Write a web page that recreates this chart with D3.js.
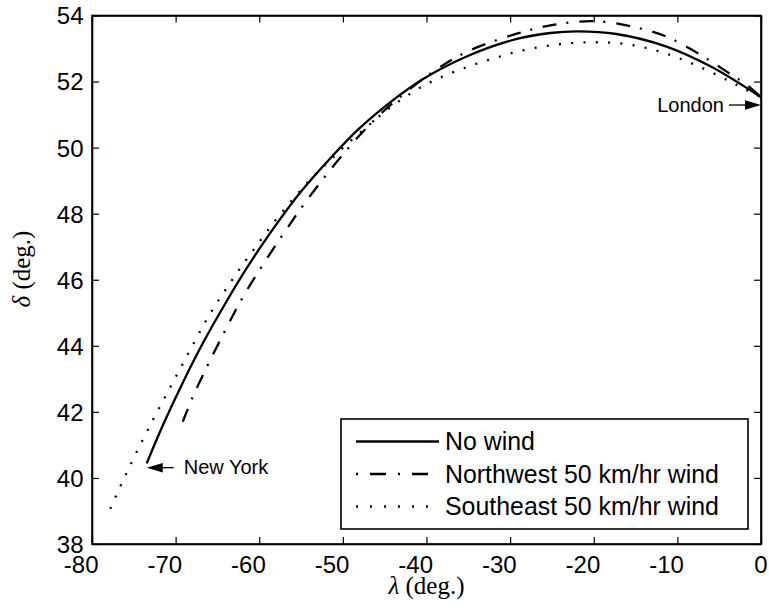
<!DOCTYPE html>
<html>
<head>
<meta charset="utf-8">
<script src="https://cdn.jsdelivr.net/npm/d3@7"></script>
<style>
  html, body { margin: 0; padding: 0; background: #fff; }
  svg { display: block; }
  text { font-family: "Liberation Sans", Arial, Helvetica, sans-serif; fill: #000; }
  .serif { font-family: "Liberation Serif", "Times New Roman", serif; }
</style>
</head>
<body>
<svg id="chart" width="769" height="612"></svg>
<script>
// ---------------- data ----------------
const xTicks = [-80, -70, -60, -50, -40, -30, -20, -10, 0];
const yTicks = [38, 40, 42, 44, 46, 48, 50, 52, 54];

const seriesNames = ["No wind", "Northwest 50 km/hr wind", "Southeast 50 km/hr wind"];

const lambdaNoWind = [-73.46, -71.5, -69, -66.7, -63.9, -61.5, -58.7, -55.1, -51.5, -48, -44, -40.4, -35.2, -29.2, -25.2, -22, -17.3, -11.3, -6.1, -2.1, 0];
const deltaNoWind  = [40.44, 41.61, 42.96, 44.10, 45.35, 46.35, 47.41, 48.64, 49.68, 50.59, 51.44, 52.08, 52.76, 53.29, 53.47, 53.52, 53.44, 53.06, 52.47, 51.87, 51.52];

const lambdaNorthwest = [-69.15, -67.9, -65.9, -63.9, -61.9, -59.5, -56.9, -54.7, -51.9, -49.4, -47.6, -44.4, -39.2, -35.2, -29.2, -25.2, -20.1, -15.3, -11.3, -7.3, -4.1, -1.7, 0];
const deltaNorthwest  = [41.70, 42.48, 43.55, 44.55, 45.50, 46.48, 47.47, 48.27, 49.20, 49.97, 50.48, 51.27, 52.30, 52.90, 53.45, 53.70, 53.83, 53.66, 53.36, 52.82, 52.30, 51.90, 51.53];

const lambdaSoutheast = [-77.81, -76, -74, -72, -70, -68, -66, -64, -62, -60, -58, -56, -54, -52, -50, -47, -44, -40, -36, -32, -28, -24, -20, -16, -12, -8, -4, -2, 0];
const deltaSoutheast  = [39.07, 40.08, 41.12, 42.10, 43.05, 44.00, 44.92, 45.71, 46.45, 47.14, 47.82, 48.43, 49.00, 49.50, 49.99, 50.66, 51.28, 51.92, 52.36, 52.70, 52.97, 53.13, 53.19, 53.13, 52.90, 52.52, 52.04, 51.78, 51.53];

// annotation arrow tips (lambda, delta)
const cityNames = ["New York", "London"];
const cityLambda = [-73.45, 0];
const cityDelta = [40.31, 51.29];

// ---------------- layout ----------------
const svg = d3.select("#chart");
const mLeft = 92, mRight = 761, mTop = 15.5, mBottom = 544;

const x = d3.scaleLinear().domain([-80, 0]).range([mLeft, mRight]);
const y = d3.scaleLinear().domain([38, 54]).range([mBottom, mTop]);

const styles = [
  { dash: null, legendDash: null, width: 2.3 },
  { dash: "14,10,2,11", legendDash: "2,12,16,12", width: 2.3 },
  { dash: "2,10.3", legendDash: "2,12", width: 2.3 }
];

const series = [
  lambdaNoWind.map((l, i) => [l, deltaNoWind[i]]),
  lambdaNorthwest.map((l, i) => [l, deltaNorthwest[i]]),
  lambdaSoutheast.map((l, i) => [l, deltaSoutheast[i]])
];

const line = d3.line().x(d => x(d[0])).y(d => y(d[1])).curve(d3.curveCatmullRom.alpha(0.5));

svg.append("defs").append("clipPath").attr("id", "plotclip")
  .append("rect").attr("x", mLeft).attr("y", mTop).attr("width", mRight - mLeft).attr("height", mBottom - mTop);

const plot = svg.append("g").attr("clip-path", "url(#plotclip)");
series.forEach((s, i) => {
  plot.append("path")
    .attr("d", line(s))
    .attr("fill", "none")
    .attr("stroke", "#000")
    .attr("stroke-width", styles[i].width)
    .attr("stroke-dasharray", styles[i].dash)
    .attr("stroke-linejoin", "round");
});

// axes (Matlab style: inward ticks, full box)
const tickLen = 7;
const fontSize = 24;
const fmt = d => String(d);
const xAxisB = svg.append("g").attr("transform", `translate(0,${mBottom})`)
  .call(d3.axisBottom(x).tickValues(xTicks).tickSizeInner(-tickLen).tickSizeOuter(0).tickFormat(fmt));
const xAxisT = svg.append("g").attr("transform", `translate(0,${mTop})`)
  .call(d3.axisTop(x).tickValues(xTicks).tickSizeInner(-tickLen).tickSizeOuter(0).tickFormat(""));
const yAxisL = svg.append("g").attr("transform", `translate(${mLeft},0)`)
  .call(d3.axisLeft(y).tickValues(yTicks).tickSizeInner(-tickLen).tickSizeOuter(0).tickFormat(fmt));
const yAxisR = svg.append("g").attr("transform", `translate(${mRight},0)`)
  .call(d3.axisRight(y).tickValues(yTicks).tickSizeInner(-tickLen).tickSizeOuter(0).tickFormat(""));

[xAxisB, xAxisT, yAxisL, yAxisR].forEach(g => {
  g.select(".domain").attr("stroke", "#000").attr("stroke-width", 1.6);
  g.selectAll(".tick line").attr("stroke", "#000").attr("stroke-width", 1.2);
  g.selectAll(".tick text").attr("font-size", fontSize).attr("font-family", "Liberation Sans, Arial, sans-serif").attr("fill", "#000");
});
xAxisB.selectAll(".tick text").attr("text-anchor", "end").attr("x", 6).attr("y", 12).attr("dy", "0.71em");
yAxisL.selectAll(".tick text").attr("x", -8.5).attr("dy", "0.35em");

svg.append("rect").attr("x", mLeft).attr("y", mTop).attr("width", mRight - mLeft).attr("height", mBottom - mTop)
  .attr("fill", "none").attr("stroke", "#000").attr("stroke-width", 1.6);

// axis labels
const xl = svg.append("text").attr("class", "serif").attr("x", (mLeft + mRight) / 2).attr("y", 594)
  .attr("text-anchor", "middle").attr("font-size", 25);
xl.append("tspan").attr("font-style", "italic").text("λ");
xl.append("tspan").text(" (deg.)");

const yl = svg.append("text").attr("class", "serif")
  .attr("transform", "translate(30,269) rotate(-90)")
  .attr("text-anchor", "middle").attr("font-size", 25);
yl.append("tspan").attr("font-style", "italic").text("δ");
yl.append("tspan").text(" (deg.)");

// annotations
function arrow(tipX, tipY, dir, lineLen) {
  const headLen = 16, half = 4.8;
  const baseX = tipX - dir * headLen;
  svg.append("path")
    .attr("d", `M${tipX},${tipY} L${baseX},${tipY - half} L${baseX},${tipY + half} Z`)
    .attr("fill", "#000");
  svg.append("line")
    .attr("x1", baseX).attr("y1", tipY)
    .attr("x2", baseX - dir * lineLen).attr("y2", tipY)
    .attr("stroke", "#000").attr("stroke-width", 1.3);
}
{
  const tx = x(cityLambda[0]), ty = y(cityDelta[0]);
  arrow(tx, ty, -1, 11);
  svg.append("text").attr("x", tx + 37).attr("y", ty + 6.5).attr("font-size", 20).text(cityNames[0]);
}
{
  const tx = x(cityLambda[1]), ty = y(cityDelta[1]);
  arrow(tx, ty, 1, 16);
  svg.append("text").attr("x", tx - 37).attr("y", ty + 6.5).attr("font-size", 20)
    .attr("text-anchor", "end").text(cityNames[1]);
}

// legend
const lg = svg.append("g");
lg.append("rect").attr("x", 341).attr("y", 419).attr("width", 407).attr("height", 110)
  .attr("fill", "#fff").attr("stroke", "#000").attr("stroke-width", 1.6);
const rowY = [441.5, 474, 506.5];
seriesNames.forEach((name, i) => {
  lg.append("line").attr("x1", 356).attr("x2", 439).attr("y1", rowY[i]).attr("y2", rowY[i])
    .attr("stroke", "#000").attr("stroke-width", styles[i].width)
    .attr("stroke-dasharray", styles[i].legendDash);
  lg.append("text").attr("x", 445).attr("y", rowY[i]).attr("dy", "0.35em")
    .attr("font-size", 24.9).text(name);
});
</script>
</body>
</html>
